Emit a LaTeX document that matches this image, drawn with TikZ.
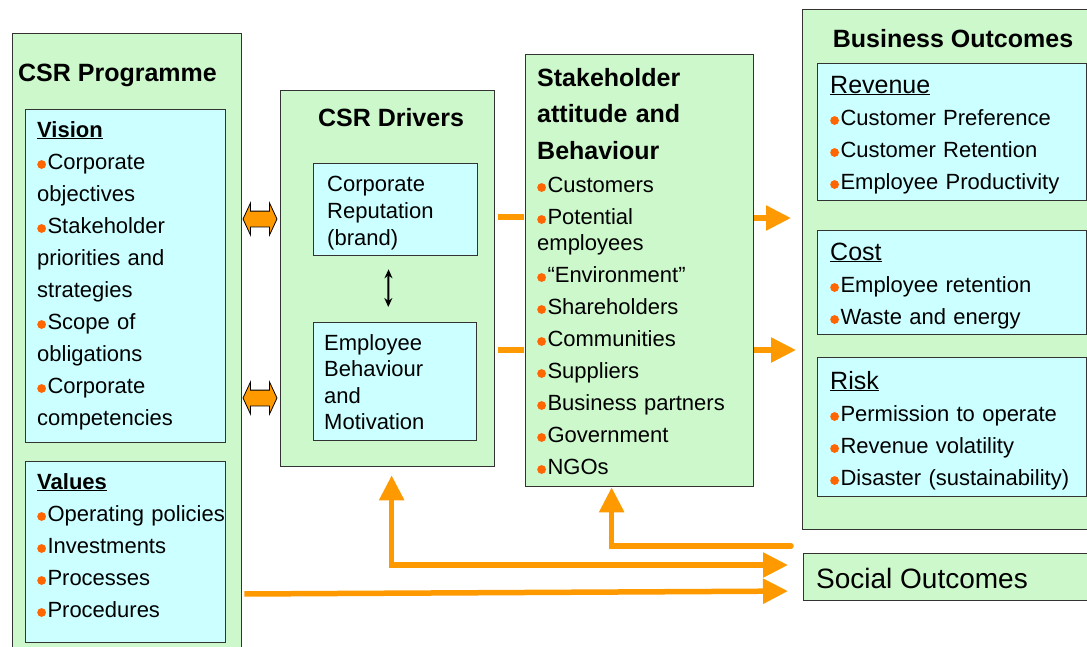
\documentclass[tikz,border=0pt]{standalone}
\usepackage{fontspec}
\setmainfont{Liberation Sans}
\usetikzlibrary{shapes.arrows,arrows.meta}
\definecolor{colorGR}{HTML}{CCF8CC}
\definecolor{colorCY}{HTML}{CCFFFF}
\definecolor{colorBD}{HTML}{333333}
\definecolor{colorOR}{HTML}{FF9900}
\definecolor{colorBL}{HTML}{FF6600}
\newcommand{\bl}{\tikz[baseline=0pt]\fill[colorBL] (4.4pt,4.5pt) circle (4.4pt);\hspace{1.5pt}}
\tikzset{
   outer/.style={rectangle,draw=colorBD,line width=1.3pt,fill=colorGR,anchor=north west,inner sep=0pt},
   inner/.style={rectangle,draw=colorBD,line width=1.3pt,fill=colorCY,anchor=north west,inner sep=0pt},
   title/.style={inner sep=0pt,font=\fontsize{25}{36.5}\selectfont\bfseries},
   body/.style={inner sep=0pt,anchor=base west,align=left,text width=#1,font=\fontsize{22}{32}\selectfont},
   dbl/.style={double arrow,draw=black,line width=0.8pt,fill=colorOR,inner xsep=0pt,inner ysep=7.5pt,
      minimum width=31pt,minimum height=34pt,double arrow head extend=8pt,double arrow tip angle=130},
   flow/.style={draw=colorOR,line width=5.5pt},
   tip/.style={-{Triangle[length=25pt,width=24pt]}},
   lnk/.style={{Stealth[length=9pt,width=8pt]}-{Stealth[length=9pt,width=8pt]},line width=2pt},
}

\begin{document}
\begin{tikzpicture}[x=1pt,y=-1pt]
      \useasboundingbox (0,0) rectangle (1087,646);

      % CSR programme
      \node (prog) [outer,minimum width=229,minimum height=630] at (12,33) {};
      \node (progt) [title,anchor=base west] at (18,81) {CSR Programme};
      \node (vision) [inner,minimum width=200,minimum height=333] at (25,109) {};
      \node (visiont) [body=200] at (37,137)
        {\textbf{\underline{Vision}}\\
         \bl Corporate\\ objectives\\
         \bl Stakeholder\\ priorities and\\ strategies\\
         \bl Scope of\\ obligations\\
         \bl Corporate\\ competencies};
      \node (values) [inner,minimum width=200,minimum height=181] at (25,461) {};
      \node (valuest) [body=200] at (37,489)
        {\textbf{\underline{Values}}\\
         \bl Operating policies\\ \bl Investments\\ \bl Processes\\ \bl Procedures};

      % CSR drivers
      \node (drivers) [outer,minimum width=214,minimum height=376] at (280,90) {};
      \node (driverst) [title,anchor=base] at (391,126) {CSR Drivers};
      \node (rep) [inner,minimum width=164,minimum height=92] at (313,163) {};
      \node (rept) [body=150,font=\fontsize{22}{27}\selectfont] at (327,191)
        {Corporate\\ Reputation\\ (brand)};
      \node (emp) [inner,minimum width=163,minimum height=118] at (313,322) {};
      \node (empt) [body=150,font=\fontsize{22}{26.5}\selectfont] at (324,350)
        {Employee\\ Behaviour\\ and\\ Motivation};

      % stakeholders
      \node (stake) [outer,minimum width=228,minimum height=432] at (525,54) {};
      \node (staket) [title,anchor=base west,align=left,text width=210] at (537,86)
        {Stakeholder\\ attitude and\\ Behaviour};
      \node (stakei) [body=215] at (537,192)
        {\bl Customers\\ \bl Potential\\[-6pt] employees\\ \bl``Environment''\\
         \bl Shareholders\\ \bl Communities\\ \bl Suppliers\\ \bl Business partners\\
         \bl Government\\ \bl NGOs};

      % outcomes
      \node (bus) [outer,minimum width=300,minimum height=520] at (802,9) {};
      \node (bust) [title,anchor=base] at (953,47) {Business Outcomes};
      \node (rev) [inner,minimum width=269,minimum height=137] at (817,63) {};
      \node (revt) [body=260] at (830,93)
        {{\fontsize{25}{32}\selectfont\underline{Revenue}}\\
         \bl Customer Preference\\ \bl Customer Retention\\ \bl Employee Productivity};
      \node (cost) [inner,minimum width=269,minimum height=104] at (817,230) {};
      \node (costt) [body=260] at (830,260)
        {{\fontsize{25}{32}\selectfont\underline{Cost}}\\
         \bl Employee retention\\ \bl Waste and energy};
      \node (risk) [inner,minimum width=269,minimum height=139] at (817,357) {};
      \node (riskt) [body=260] at (830,389)
        {{\fontsize{25}{32}\selectfont\underline{Risk}}\\
         \bl Permission to operate\\ \bl Revenue volatility\\ \bl Disaster (sustainability)};
      \node (social) [outer,minimum width=300,minimum height=47] at (803,553) {};
      \node (socialt) [inner sep=0pt,anchor=base west,font=\fontsize{28}{32}\selectfont] at (816,588)
        {Social Outcomes};

      % links
      \node (dblA) [dbl] at (260,219) {};
      \node (dblB) [dbl] at (260,398) {};
      \draw[lnk,shorten <=13pt,shorten >=15pt] ([xshift=-7]rep.south) -- ([xshift=-7]emp.north);

      \draw[flow,shorten <=3pt,shorten >=1pt] (drivers.east |- 0,217) -- (stake.west |- 0,217);
      \draw[flow,shorten <=3pt,shorten >=1pt] (drivers.east |- 0,350) -- (stake.west |- 0,350);
      \draw[flow,tip,shorten >=11pt] (stake.east |- 0,218) -- (bus.west |- 0,218);
      \draw[flow,tip,shorten >=6pt] (stake.east |- 0,350) -- (bus.west |- 0,350);

      \coordinate (fb) at (791,546);
      \draw[flow,tip,line cap=round] (fb) -| ([xshift=-28]stake.south);
      \draw[flow,{Triangle[length=25pt,width=24pt]}-{Triangle[length=25pt,width=24pt]},
            shorten <=8pt,shorten >=15pt] ([xshift=4]drivers.south) |- (social.west |- 0,565);
      \draw[flow,tip,shorten <=2pt,shorten >=15pt] (prog.east |- 0,594) -- (social.west |- 0,591);
\end{tikzpicture}
\end{document}
